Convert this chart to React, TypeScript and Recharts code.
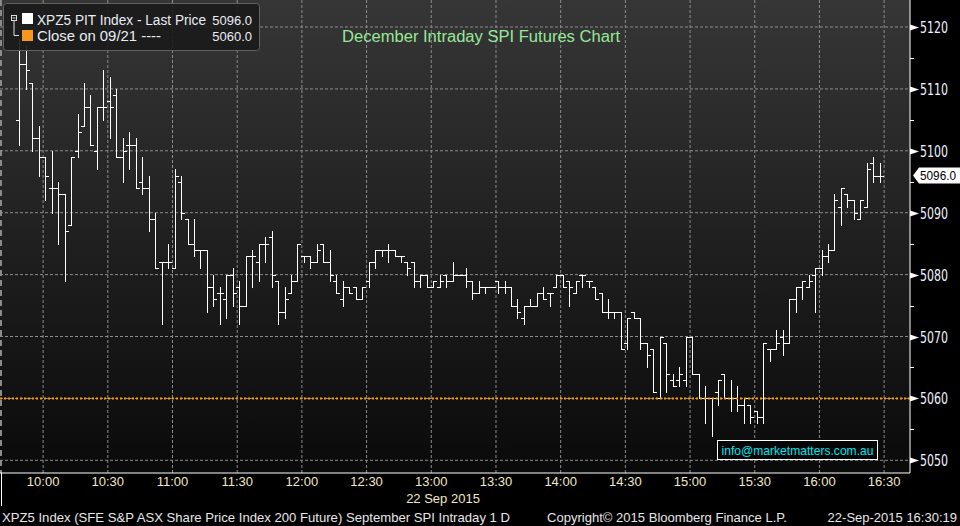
import { ComposedChart, Bar, XAxis, YAxis, CartesianGrid, ReferenceLine } from "recharts"

// 3-minute bars, first one stamped 09:49 (minutes after midnight)
const BAR_START = 589
const BAR_STEP = 3

const OPEN = [
  5105, 5114, 5111, 5102, 5099, 5094, 5094, 5093, 5088, 5100, 5104, 5107, 5100, 5107, 5108, 5109, 5099, 5101, 5101, 5095,
  5094, 5089, 5082, 5082, 5081, 5095, 5089, 5085, 5084, 5084, 5078, 5077, 5076, 5080, 5078, 5075, 5083, 5082, 5085, 5086,
  5079, 5074, 5077, 5079, 5083, 5083, 5082, 5085, 5082, 5079, 5076, 5078, 5078, 5076, 5079, 5082, 5084, 5084, 5084, 5083,
  5082, 5082, 5079, 5080, 5078, 5078, 5080, 5079, 5080, 5080, 5079, 5077, 5078, 5078, 5079, 5078, 5078, 5075, 5073, 5075,
  5075, 5077, 5077, 5078, 5080, 5079, 5077, 5080, 5079, 5078, 5077, 5074, 5074, 5074, 5069, 5074, 5073, 5069, 5068, 5060,
  5069, 5063, 5063, 5063, 5070, 5064, 5060, 5060, 5061, 5064, 5060, 5060, 5059, 5059, 5058, 5057, 5068, 5068, 5070, 5069,
  5076, 5078, 5078, 5080, 5081, 5083, 5084, 5091, 5093, 5092, 5089, 5091, 5098, 5096,
]
const HIGH = [
  5118, 5117, 5111, 5104, 5099, 5100, 5095, 5093, 5099, 5106, 5111, 5109, 5107, 5113, 5112, 5110, 5102, 5103, 5102, 5099,
  5096, 5090, 5082, 5085, 5097, 5096, 5089, 5089, 5084, 5084, 5080, 5078, 5080, 5081, 5079, 5083, 5084, 5085, 5086, 5087,
  5079, 5078, 5080, 5085, 5083, 5083, 5085, 5085, 5084, 5080, 5079, 5078, 5078, 5078, 5082, 5084, 5084, 5085, 5084, 5083,
  5082, 5082, 5080, 5080, 5079, 5080, 5080, 5082, 5080, 5081, 5079, 5079, 5078, 5078, 5079, 5079, 5078, 5076, 5075, 5076,
  5077, 5078, 5077, 5080, 5080, 5079, 5079, 5080, 5079, 5078, 5077, 5076, 5074, 5074, 5073, 5074, 5073, 5069, 5068, 5070,
  5069, 5064, 5065, 5070, 5070, 5064, 5062, 5060, 5063, 5064, 5063, 5062, 5060, 5059, 5058, 5069, 5068, 5071, 5071, 5076,
  5078, 5079, 5080, 5081, 5084, 5085, 5093, 5094, 5093, 5092, 5092, 5098, 5099, 5098,
]
const LOW = [
  5101, 5110, 5100, 5096, 5092, 5090, 5085, 5079, 5088, 5099, 5104, 5101, 5097, 5105, 5102, 5099, 5095, 5097, 5094, 5093,
  5087, 5081, 5072, 5081, 5081, 5089, 5085, 5083, 5081, 5074, 5075, 5072, 5073, 5075, 5072, 5075, 5078, 5079, 5082, 5078,
  5072, 5073, 5077, 5079, 5082, 5081, 5082, 5082, 5079, 5077, 5075, 5077, 5076, 5076, 5078, 5081, 5083, 5082, 5083, 5082,
  5080, 5078, 5078, 5078, 5078, 5078, 5078, 5079, 5080, 5078, 5076, 5077, 5077, 5078, 5077, 5077, 5075, 5073, 5072, 5075,
  5075, 5076, 5075, 5078, 5078, 5075, 5077, 5078, 5078, 5076, 5074, 5073, 5073, 5068, 5068, 5073, 5068, 5065, 5061, 5060,
  5061, 5062, 5062, 5062, 5064, 5060, 5056, 5054, 5059, 5060, 5058, 5058, 5056, 5056, 5056, 5056, 5066, 5068, 5067, 5069,
  5074, 5076, 5078, 5074, 5080, 5082, 5084, 5088, 5091, 5089, 5089, 5091, 5095, 5095,
]
const CLOSE = [
  5114, 5113, 5102, 5099, 5096, 5094, 5093, 5087, 5099, 5103, 5107, 5101, 5107, 5107, 5107, 5099, 5100, 5101, 5094, 5094,
  5089, 5081, 5082, 5082, 5096, 5090, 5085, 5084, 5084, 5078, 5076, 5077, 5080, 5077, 5075, 5083, 5083, 5085, 5085, 5080,
  5074, 5076, 5079, 5085, 5083, 5082, 5084, 5082, 5080, 5077, 5078, 5077, 5076, 5078, 5082, 5084, 5084, 5084, 5083, 5083,
  5081, 5079, 5080, 5078, 5079, 5079, 5079, 5080, 5080, 5079, 5077, 5078, 5078, 5078, 5078, 5078, 5075, 5074, 5075, 5075,
  5077, 5076, 5077, 5080, 5078, 5078, 5079, 5080, 5079, 5076, 5074, 5074, 5074, 5068, 5073, 5073, 5069, 5067, 5061, 5070,
  5064, 5062, 5064, 5070, 5064, 5060, 5060, 5060, 5063, 5060, 5060, 5059, 5060, 5057, 5057, 5069, 5068, 5069, 5069, 5076,
  5078, 5079, 5079, 5081, 5083, 5084, 5092, 5094, 5092, 5090, 5092, 5097, 5096, 5096,
]

const TIME_TICKS = [600, 630, 660, 690, 720, 750, 780, 810, 840, 870, 900, 930, 960, 990]
const TIME_LABELS = ["10:00", "10:30", "11:00", "11:30", "12:00", "12:30", "13:00", "13:30", "14:00", "14:30", "15:00", "15:30", "16:00", "16:30"]
const PRICE_TICKS = [5050, 5060, 5070, 5080, 5090, 5100, 5110, 5120]
const MINOR_TICKS = [5055, 5065, 5075, 5085, 5095, 5105, 5115]
const PREV_CLOSE = 5060
const LAST_PRICE = 5096

const W = 960
const H = 526
const PLOT_R = 910
const PLOT_B = 473
const FONT = "'Liberation Sans', Arial, sans-serif"
const NARROW = "'Liberation Sans Narrow', 'Arial Narrow', 'DejaVu Sans Condensed', 'Liberation Sans', sans-serif"

const data = OPEN.map((o, i) => ({
  t: BAR_START + i * BAR_STEP,
  open: o,
  high: HIGH[i],
  low: LOW[i],
  close: CLOSE[i],
}))

function OhlcShape(props: any) {
  const { x, y, width, height, payload } = props
  if (x == null || y == null) return null
  const cx = Math.round(x + width / 2) + 0.5
  const top = Math.min(y, y + height)
  const h = Math.abs(height || 0)
  const span = payload.high - payload.low
  const py = (v: number) => (span > 0 ? top + ((payload.high - v) / span) * h : top)
  const yo = Math.round(py(payload.open)) + 0.5
  const yc = Math.round(py(payload.close)) + 0.5
  return (
    <g stroke="#ffffff" strokeWidth={1} shapeRendering="crispEdges">
      <line x1={cx} x2={cx} y1={Math.round(top)} y2={Math.round(top + h) + 1} />
      <line x1={cx - 3.5} x2={cx} y1={yo} y2={yo} />
      <line x1={cx} x2={cx + 3.5} y1={yc} y2={yc} />
    </g>
  )
}

function PriceTick({ y, payload }: any) {
  const v = payload.value
  const yy = Math.round(y) + 0.5
  if (v % 10 !== 0) {
    return <line x1={PLOT_R} x2={PLOT_R + 4} y1={yy} y2={yy} stroke="#fff" shapeRendering="crispEdges" />
  }
  return (
    <g>
      <polygon points={`${PLOT_R},${yy - 3} ${PLOT_R + 9},${yy} ${PLOT_R},${yy + 3}`} fill="#fff" />
      <text x={PLOT_R + 10} y={yy} dy="0.36em" fill="#eef2ff" fontSize={15} fontFamily={NARROW} textLength={28} lengthAdjust="spacingAndGlyphs">
        {v}
      </text>
    </g>
  )
}

function TimeTick({ x, y, payload }: any) {
  const i = TIME_TICKS.indexOf(payload.value)
  return (
    <text x={x} y={y} dy="0.71em" textAnchor="middle" fill="#f2e6c4" fontSize={13} fontFamily={FONT}>
      {TIME_LABELS[i]}
    </text>
  )
}

export default function App() {
  const tagY = 27 + (5120 - LAST_PRICE) * 6.19
  return (
    <div style={{ position: "absolute", left: 0, top: 0, width: W, height: H, background: "#000", overflow: "hidden" }}>
      <svg width={W} height={H} style={{ position: "absolute", left: 0, top: 0 }}>
        <defs>
          <linearGradient id="plotBg" x1="0" y1="0" x2="0" y2="1">
            <stop offset="0%" stopColor="#363636" />
            <stop offset="100%" stopColor="#0a0a0a" />
          </linearGradient>
        </defs>
        <rect x={0} y={0} width={PLOT_R} height={PLOT_B} fill="url(#plotBg)" />
        <line x1={1} x2={1} y1={0} y2={PLOT_B} stroke="#8a8a8a" strokeWidth={2} strokeDasharray="6 4" />
      </svg>

      <div style={{ position: "absolute", left: 0, top: 0 }}>
        <ComposedChart width={W} height={H} data={data} margin={{ top: 0, right: 0, left: 0, bottom: 0 }}>
          <CartesianGrid
            stroke="#8c8c8c"
            strokeDasharray="3 2"
            horizontalValues={PRICE_TICKS}
            verticalValues={TIME_TICKS}
          />
          <XAxis
            dataKey="t"
            type="number"
            domain={[580, 1002]}
            allowDataOverflow
            ticks={TIME_TICKS}
            height={H - PLOT_B}
            tickLine={false}
            tickSize={0}
            tickMargin={4}
            axisLine={{ stroke: "#ffffff" }}
            tick={<TimeTick />}
            interval={0}
          />
          <YAxis
            orientation="right"
            type="number"
            domain={[5047.95, 5124.36]}
            allowDataOverflow
            ticks={[...PRICE_TICKS, ...MINOR_TICKS]}
            width={W - PLOT_R}
            tickLine={false}
            axisLine={{ stroke: "#ffffff" }}
            tick={<PriceTick />}
            interval={0}
          />
          <ReferenceLine y={PREV_CLOSE} stroke="#ff9a00" strokeWidth={2} strokeDasharray="2 2" />
          <Bar dataKey={(d: any) => [d.low, d.high]} shape={<OhlcShape />} isAnimationActive={false} />
        </ComposedChart>
      </div>

      <svg width={W} height={H} style={{ position: "absolute", left: 0, top: 0, pointerEvents: "none" }}>
        {/* legend box */}
        <rect x={3.5} y={3.5} width={256} height={47} rx={3} fill="rgba(26,26,26,0.9)" stroke="#626262" />
        <rect x={11.5} y={15.5} width={5} height={5} fill="none" stroke="#dddddd" />
        <line x1={12.5} x2={15.5} y1={18} y2={18} stroke="#dddddd" />
        <polyline points="14,21 14,35.5 19,35.5" fill="none" stroke="#dddddd" />
        <rect x={22} y={13} width={11} height={11} fill="#ffffff" />
        <rect x={22} y={30} width={11} height={11} fill="#f7981d" />
        <text x={37} y={24.5} fill="#e8ecf4" fontSize={14} fontFamily={FONT} textLength={169} lengthAdjust="spacingAndGlyphs">
          XPZ5 PIT Index - Last Price
        </text>
        <text x={252} y={24.5} textAnchor="end" fill="#e8ecf4" fontSize={13} fontFamily={FONT}>
          {LAST_PRICE.toFixed(1)}
        </text>
        <text x={37} y={40.5} fill="#e8ecf4" fontSize={14} fontFamily={FONT} textLength={124} lengthAdjust="spacingAndGlyphs">
          Close on 09/21 ----
        </text>
        <text x={252} y={40.5} textAnchor="end" fill="#e8ecf4" fontSize={13} fontFamily={FONT}>
          {PREV_CLOSE.toFixed(1)}
        </text>

        {/* title */}
        <text x={481} y={42} textAnchor="middle" fill="#98e898" fontSize={16} fontFamily={FONT} textLength={278} lengthAdjust="spacingAndGlyphs">
          December Intraday SPI Futures Chart
        </text>

        {/* last price tag */}
        <polygon points={`913,${tagY} 919,${tagY - 8} 960,${tagY - 8} 960,${tagY + 8} 919,${tagY + 8}`} fill="#ffffff" />
        <text x={920} y={tagY} dy="0.36em" fill="#000" fontSize={12.5} fontFamily={FONT} textLength={36} lengthAdjust="spacingAndGlyphs">
          {LAST_PRICE.toFixed(1)}
        </text>

        {/* watermark */}
        <rect x={717.5} y={440.5} width={160} height={19} fill="#050505" stroke="#ffffff" />
        <text x={797.5} y={455} textAnchor="middle" fill="#00e4ef" fontSize={13} fontFamily={FONT} textLength={152} lengthAdjust="spacingAndGlyphs">
          info@marketmatters.com.au
        </text>

        {/* date under axis */}
        <line x1={1.5} x2={1.5} y1={PLOT_B} y2={506} stroke="#ffffff" />
        <text x={443} y={503} textAnchor="middle" fill="#f2e6c4" fontSize={13} fontFamily={FONT}>
          22 Sep 2015
        </text>

        {/* footer */}
        <text x={2} y={522} fill="#e6e6e6" fontSize={13} fontFamily={FONT} textLength={508} lengthAdjust="spacingAndGlyphs">
          XPZ5 Index (SFE S&amp;P ASX Share Price Index 200 Future) September SPI Intraday 1 D
        </text>
        <text x={547} y={522} fill="#e6e6e6" fontSize={13} fontFamily={FONT} textLength={240} lengthAdjust="spacingAndGlyphs">
          Copyright© 2015 Bloomberg Finance L.P.
        </text>
        <text x={957} y={522} textAnchor="end" fill="#e6e6e6" fontSize={13} fontFamily={FONT}>
          22-Sep-2015 16:30:19
        </text>
      </svg>
    </div>
  )
}
